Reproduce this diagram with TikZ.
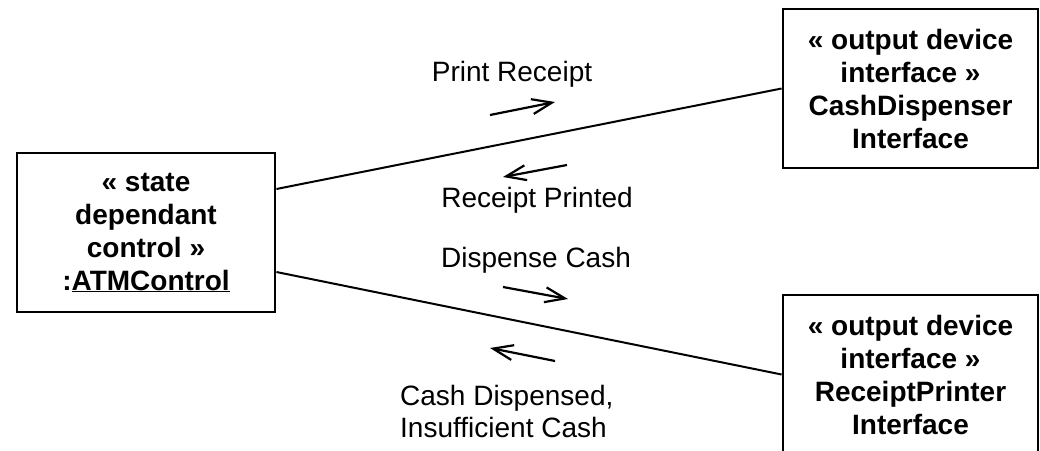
\documentclass[tikz,border=0pt]{standalone}
\usepackage{fontspec}
\setmainfont{Liberation Sans}
\usetikzlibrary{arrows.meta}

\begin{document}
\begin{tikzpicture}[x=1pt,y=-1pt,
  objbox/.style={draw=black, line width=2.8pt, minimum height=159pt,
    align=center, inner sep=0pt, font=\fontsize{28}{33}\selectfont\bfseries},
  link/.style={line width=2pt},
  msg/.style={line width=2.2pt, -{Straight Barb[length=20pt,width=15pt,line width=2.2pt]}},
  msglabel/.style={inner sep=0pt, font=\fontsize{28}{32}\selectfont},
]
\useasboundingbox (0,0) rectangle (1040,450);
\clip (0,0) rectangle (1040,450);

% objects
\node[objbox, minimum width=258pt] (ctrl) at (146,232.5)
  {« state\\dependant\\control »\\:\underline{ATMControl}};
\node[objbox, minimum width=255pt] (cash) at (910.5,88.5)
  {« output device\\interface »\\CashDispenser\\Interface};
\node[objbox, minimum width=255pt] (prn) at (910.5,374.5)
  {« output device\\interface »\\ReceiptPrinter\\Interface};

% links
\draw[link] ([yshift=43.5pt]ctrl.east) -- (cash.west);
\draw[link] ([yshift=-39.5pt]ctrl.east) -- (prn.west);

% message arrows
\coordinate (pr1) at (490,115);  \coordinate (pr2) at (555,102);
\coordinate (rp1) at (567,165);  \coordinate (rp2) at (503,177);
\coordinate (dc1) at (503,287);  \coordinate (dc2) at (568,299);
\coordinate (cd1) at (555,361);  \coordinate (cd2) at (490,348);
\draw[msg] (pr1) -- (pr2);
\draw[msg] (rp1) -- (rp2);
\draw[msg] (dc1) -- (dc2);
\draw[msg] (cd1) -- (cd2);

% message labels
\node[msglabel] (lpr) at (512,74) {Print Receipt};
\node[msglabel] (lrp) at (537,200) {Receipt Printed};
\node[msglabel] (ldc) at (536,260) {Dispense Cash};
\node[msglabel, align=left, anchor=west] (lcd) at (400,411)
  {Cash Dispensed,\\Insufficient Cash};
\end{tikzpicture}
\end{document}
